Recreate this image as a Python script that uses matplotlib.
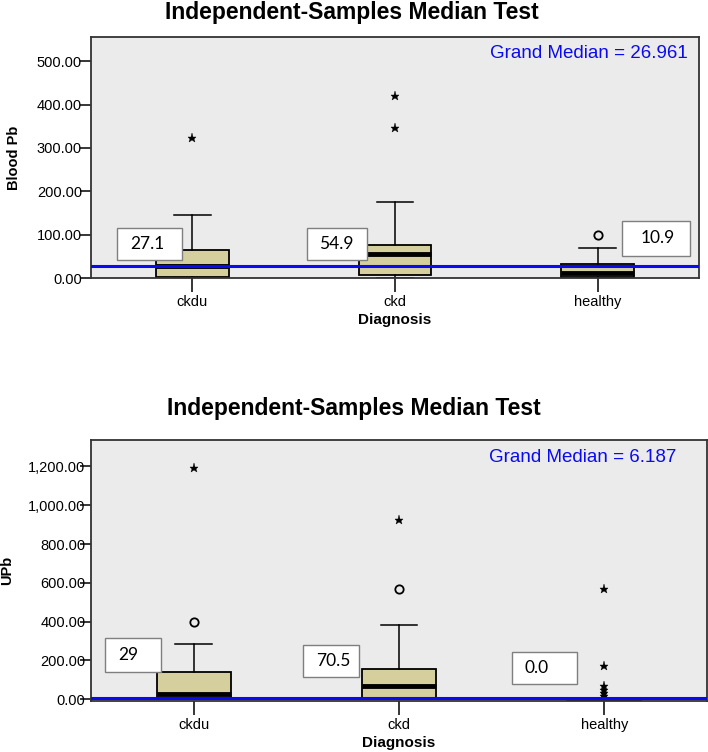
import matplotlib
matplotlib.use("Agg")
import matplotlib.pyplot as plt
from matplotlib.patches import Rectangle
from matplotlib.ticker import FuncFormatter, MultipleLocator

plt.rcParams['font.family'] = ['Liberation Sans', 'DejaVu Sans']

# ---------------- data ----------------
categories = ["ckdu", "ckd", "healthy"]

# Blood Pb
pb_q1 = [1.5, 6.0, 1.5]
pb_med = [27.1, 54.9, 12.0]
pb_q3 = [65.5, 76.0, 31.5]
pb_whislo = [0.5, 1.0, 0.5]
pb_whishi = [145.0, 175.0, 70.0]
pb_fliers_star = [[324.0], [419.0, 347.0], []]
pb_fliers_circle = [[], [], [100.0]]
pb_grand_median = 26.961
pb_labels = ["27.1", "54.9", "10.9"]

# UPb
upb_q1 = [8.0, 8.0, -4.0]
upb_med = [27.0, 66.0, 0.0]
upb_q3 = [142.0, 158.0, 2.0]
upb_whislo = [1.0, 1.0, -4.0]
upb_whishi = [285.0, 383.0, 4.0]
upb_fliers_star = [[1192.0], [924.0], [568.0, 170.0, 70.0, 50.0, 30.0, 15.0]]
upb_fliers_circle = [[398.0], [568.0], []]
upb_grand_median = 6.187
upb_labels = ["29", "70.5", "0.0"]

BOX_COLOR = "#d4cf9c"
BG = "#ebebeb"
BLUE = "#0a0af0"

fig = plt.figure(figsize=(7.08, 7.52), dpi=100)
W, H = 708, 752


def make_axes(left, top, right, bottom):
    return fig.add_axes([left / W, 1 - bottom / H, (right - left) / W, (bottom - top) / H])


def draw_panel(ax, q1, med, q3, wlo, whi, stars, circles, gm, ylim, step, fmt,
               ylabel, labels, label_boxes, gm_x, ypad):
    stats = []
    for i in range(len(categories)):
        stats.append(dict(q1=q1[i], med=med[i], q3=q3[i], whislo=wlo[i], whishi=whi[i],
                          fliers=[], label=categories[i]))
    pos = list(range(len(categories)))
    ax.bxp(stats, positions=pos, widths=0.36, patch_artist=True, showfliers=False,
           boxprops=dict(facecolor=BOX_COLOR, edgecolor="black", linewidth=1.3),
           medianprops=dict(color="black", linewidth=3.5, solid_capstyle="butt"),
           whiskerprops=dict(color="black", linewidth=1.1),
           capprops=dict(color="black", linewidth=1.1), capwidths=0.18)
    for i in pos:
        if stars[i]:
            ax.plot([i] * len(stars[i]), stars[i], linestyle="none", marker="*",
                    color="black", markersize=6.5, markeredgewidth=0.3, zorder=4)
        if circles[i]:
            ax.plot([i] * len(circles[i]), circles[i], linestyle="none", marker="o",
                    markerfacecolor="none", markeredgecolor="black", markersize=6,
                    markeredgewidth=1.3, zorder=4)
    ax.axhline(gm, color=BLUE, linewidth=2.2, zorder=5)
    ax.set_xlim(-0.5, len(categories) - 0.5)
    ax.set_ylim(*ylim)
    ax.set_facecolor(BG)
    ax.yaxis.set_major_locator(MultipleLocator(step))
    ax.yaxis.set_major_formatter(FuncFormatter(fmt))
    ax.set_xticks(pos)
    ax.set_xticklabels(categories)
    ax.tick_params(axis="y", direction="out", length=8, width=1.1, pad=ypad, labelsize=10.5)
    ax.tick_params(axis="x", direction="out", length=10, width=1.1, pad=2, labelsize=10.5)
    for sp in ax.spines.values():
        sp.set_linewidth(1.3)
        sp.set_color("#333333")
    ax.set_xlabel("Diagnosis", fontsize=11, fontweight="bold", labelpad=3)
    ax.set_ylabel(ylabel, fontsize=10.5, fontweight="bold")
    ax.text(gm_x, 0.965, "Grand Median = " + f"{gm:.3f}", transform=ax.transAxes,
            ha="right", va="top", color=BLUE, fontsize=13.5)
    for (bx, by, bw, bh, tx, ty), lab in zip(label_boxes, labels):
        ax.add_patch(Rectangle((bx, by), bw, bh, transform=ax.transAxes, facecolor="white",
                               edgecolor="#7f7f7f", linewidth=1.0, zorder=6))
        ax.text(tx, ty, lab, transform=ax.transAxes, ha="left", va="center",
                fontsize=12.5, family=["Lato", "DejaVu Sans"], zorder=7)


ax1 = make_axes(91, 37, 699, 278)
boxes1 = [(0.0428, 0.0747, 0.1069, 0.1328, 0.0645, 0.141),
          (0.3553, 0.0747, 0.0987, 0.1328, 0.375, 0.141),
          (0.8734, 0.0913, 0.1118, 0.1452, 0.9046, 0.164)]
draw_panel(ax1, pb_q1, pb_med, pb_q3, pb_whislo, pb_whishi, pb_fliers_star,
           pb_fliers_circle, pb_grand_median, (0, 556), 100, lambda v, p: f"{v:,.2f}",
           "Blood Pb", pb_labels, boxes1, 0.982, -1.5)
ax1.yaxis.set_label_coords(-0.127, 0.5)
ax1.yaxis.label.set_va("center")

ax2 = make_axes(91, 440, 707, 701)
boxes2 = [(0.0227, 0.1111, 0.0909, 0.1303, 0.0438, 0.176),
          (0.3442, 0.092, 0.0909, 0.1226, 0.365, 0.153),
          (0.6834, 0.0651, 0.1055, 0.1226, 0.703, 0.126)]
draw_panel(ax2, upb_q1, upb_med, upb_q3, upb_whislo, upb_whishi, upb_fliers_star,
           upb_fliers_circle, upb_grand_median, (-9, 1336), 200, lambda v, p: f"{v:,.2f}",
           "UPb", upb_labels, boxes2, 0.95, -4)
ax2.yaxis.set_label_coords(-0.136, 0.5)
ax2.yaxis.label.set_va("center")

fig.text(352 / W, 1 - 19 / H, "Independent-Samples Median Test", ha="center", va="baseline",
         fontsize=16.5, fontweight="bold")
fig.text(354 / W, 1 - 415 / H, "Independent-Samples Median Test", ha="center", va="baseline",
         fontsize=16.5, fontweight="bold")

fig.savefig("out.png", dpi=100, facecolor="white")
